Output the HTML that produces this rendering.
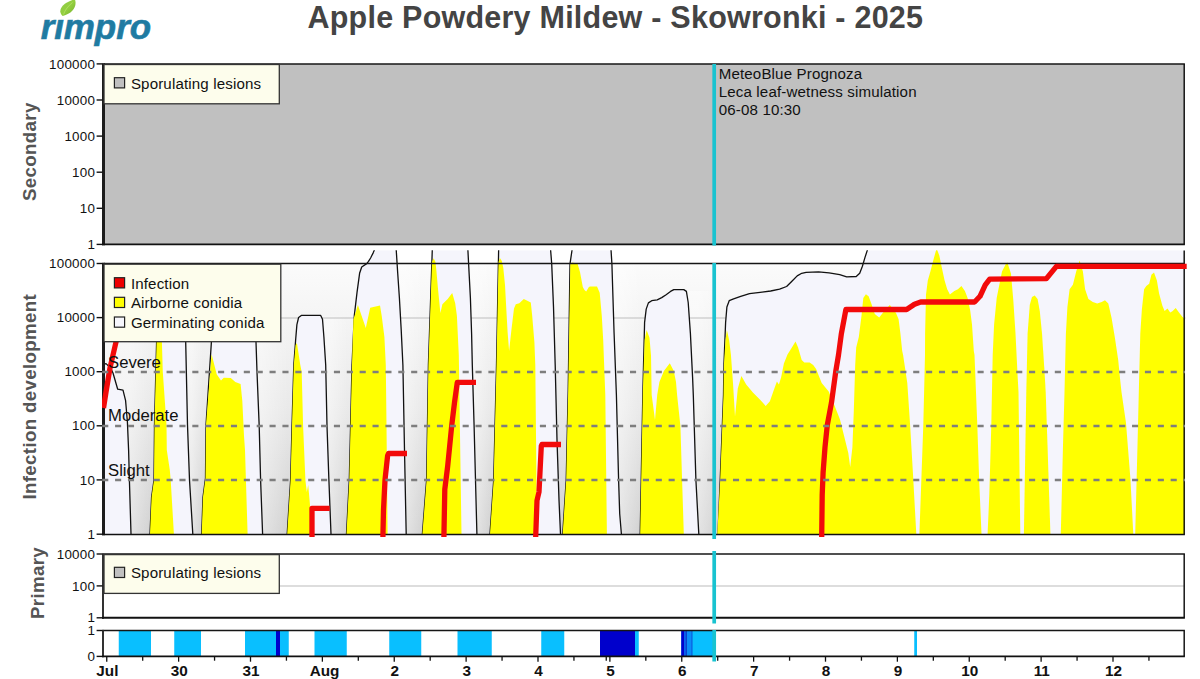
<!DOCTYPE html>
<html><head><meta charset="utf-8">
<style>
html,body{margin:0;padding:0;background:#fff;}
body{width:1200px;height:679px;overflow:hidden;font-family:"Liberation Sans",sans-serif;}
svg{display:block;position:absolute;left:0;top:0;}
text{font-family:"Liberation Sans",sans-serif;}
.tk{font-size:13.4px;letter-spacing:0.22px;fill:#111;text-anchor:end;}
.yl{font-size:18.7px;letter-spacing:0.35px;font-weight:bold;fill:#555;text-anchor:middle;}
.lg{font-size:15.1px;letter-spacing:0.15px;fill:#111;}
.xl{font-size:15.3px;font-weight:bold;fill:#111;text-anchor:middle;}
.lv{font-size:16.7px;fill:#111;}
</style></head><body>
<svg width="1200" height="679" viewBox="0 0 1200 679">
<defs>
<linearGradient id="bg" x1="0" y1="0" x2="0" y2="1">
<stop offset="0" stop-color="#fbfbfb"/><stop offset="0.55" stop-color="#e9e9e9"/><stop offset="1" stop-color="#d1d1d1"/>
</linearGradient>
<linearGradient id="leaf" x1="0" y1="0" x2="1" y2="1">
<stop offset="0" stop-color="#8ac848"/><stop offset="0.5" stop-color="#94cf3f"/><stop offset="1" stop-color="#74b030"/>
</linearGradient>
<clipPath id="cpI"><rect x="102" y="250.3" width="1083.5" height="283.7"/></clipPath>
<clipPath id="cpR"><rect x="102" y="250.3" width="1085" height="287"/></clipPath>
</defs>
<!-- LOGO -->
<g id="logo">
<text x="40.7" y="38.5" font-size="35" font-weight="bold" font-style="italic" fill="#1f7ba2" stroke="#1f7ba2" stroke-width="0.6" style="letter-spacing:-0.1px">rimpro</text>
<rect x="58" y="9" width="14" height="10.2" fill="#fff"/>
<path d="M62.7 15.9 C57.5 11.5 60.5 3.500 74.8 -0.8 C77.5 5.500 73 13.500 62.7 15.9 Z" fill="url(#leaf)"/>
<path d="M63.5 14.5 C65 10 68 6 72.500 2.500" stroke="#b6e36c" stroke-width="0.9" fill="none" opacity="0.8"/>
</g>
<!-- TITLE -->
<text x="307.5" y="28" font-size="30.5" font-weight="bold" fill="#444" style="letter-spacing:0.23px">Apple Powdery Mildew - Skowronki - 2025</text>

<!-- SECONDARY -->
<g id="sec">
<rect x="103" y="64" width="1082" height="180.5" fill="#c0c0c0"/>
<line x1="103.5" y1="63.9" x2="1184.9" y2="63.9" stroke="#161616" stroke-width="1.5"/>
<line x1="1184.2" y1="63.9" x2="1184.2" y2="244.4" stroke="#161616" stroke-width="1.5"/>
<line x1="103.5" y1="63.199999999999996" x2="103.5" y2="245.3" stroke="#1c1c1c" stroke-width="3"/>
<line x1="102.0" y1="244.4" x2="1184.9" y2="244.4" stroke="#111" stroke-width="1.9"/>
<g stroke="#111" stroke-width="1.4">
<line x1="96.6" y1="63.9" x2="102.5" y2="63.9"/>
<line x1="96.6" y1="100" x2="102.5" y2="100"/>
<line x1="96.6" y1="136.1" x2="102.5" y2="136.1"/>
<line x1="96.6" y1="172.2" x2="102.5" y2="172.2"/>
<line x1="96.6" y1="208.3" x2="102.5" y2="208.3"/>
<line x1="96.6" y1="244.4" x2="102.5" y2="244.4"/>
</g>
<text class="tk" x="95.1" y="68.5">100000</text>
<text class="tk" x="95.1" y="104.6">10000</text>
<text class="tk" x="95.1" y="140.7">1000</text>
<text class="tk" x="95.1" y="176.8">100</text>
<text class="tk" x="95.1" y="212.9">10</text>
<text class="tk" x="95.1" y="249.0">1</text>
<text class="yl" transform="translate(36.4,151.7) rotate(-90)">Secondary</text>
<rect x="104.0" y="64.5" width="175.29999999999998" height="39.3" fill="#fdfdec" stroke="#333" stroke-width="1.3"/>
<rect x="114.4" y="77.7" width="10.2" height="10.2" fill="#c0c0c0" stroke="#222" stroke-width="1.2"/>
<text class="lg" x="130.9" y="88.8">Sporulating lesions</text>
<text class="lg" x="718.7" y="79">MeteoBlue Prognoza</text>
<text class="lg" x="718.7" y="97">Leca leaf-wetness simulation</text>
<text class="lg" x="718.7" y="115">06-08 10:30</text>
</g>

<!-- INFECTION -->
<g id="inf">
<rect x="103" y="264" width="1082" height="270" fill="url(#bg)"/>
<g id="curves" clip-path="url(#cpI)">
<linearGradient id="gp0" gradientUnits="userSpaceOnUse" x1="130.0" y1="0" x2="151.0" y2="0"><stop offset="0" stop-color="#fff" stop-opacity="0.42"/><stop offset="1" stop-color="#fff" stop-opacity="0"/></linearGradient>
<rect x="103.0" y="264" width="48.0" height="270" fill="url(#gp0)"/>
<linearGradient id="gp1" gradientUnits="userSpaceOnUse" x1="191.8" y1="0" x2="202.7" y2="0"><stop offset="0" stop-color="#fff" stop-opacity="0.42"/><stop offset="1" stop-color="#fff" stop-opacity="0"/></linearGradient>
<rect x="178.8" y="264" width="23.9" height="270" fill="url(#gp1)"/>
<linearGradient id="gp2" gradientUnits="userSpaceOnUse" x1="261.6" y1="0" x2="288.2" y2="0"><stop offset="0" stop-color="#fff" stop-opacity="0.42"/><stop offset="1" stop-color="#fff" stop-opacity="0"/></linearGradient>
<rect x="248.6" y="264" width="39.6" height="270" fill="url(#gp2)"/>
<linearGradient id="gp3" gradientUnits="userSpaceOnUse" x1="330.0" y1="0" x2="347.5" y2="0"><stop offset="0" stop-color="#fff" stop-opacity="0.42"/><stop offset="1" stop-color="#fff" stop-opacity="0"/></linearGradient>
<rect x="317.0" y="316.5" width="30.5" height="217.5" fill="url(#gp3)"/>
<linearGradient id="gp4" gradientUnits="userSpaceOnUse" x1="405.2" y1="0" x2="423.4" y2="0"><stop offset="0" stop-color="#fff" stop-opacity="0.42"/><stop offset="1" stop-color="#fff" stop-opacity="0"/></linearGradient>
<rect x="392.2" y="264" width="31.2" height="270" fill="url(#gp4)"/>
<linearGradient id="gp5" gradientUnits="userSpaceOnUse" x1="475.9" y1="0" x2="491.0" y2="0"><stop offset="0" stop-color="#fff" stop-opacity="0.42"/><stop offset="1" stop-color="#fff" stop-opacity="0"/></linearGradient>
<rect x="462.9" y="264" width="28.1" height="270" fill="url(#gp5)"/>
<linearGradient id="gp6" gradientUnits="userSpaceOnUse" x1="620.4" y1="0" x2="641.2" y2="0"><stop offset="0" stop-color="#fff" stop-opacity="0.42"/><stop offset="1" stop-color="#fff" stop-opacity="0"/></linearGradient>
<rect x="607.4" y="264" width="33.8" height="270" fill="url(#gp6)"/>
<linearGradient id="gp7" gradientUnits="userSpaceOnUse" x1="697.8" y1="0" x2="719.0" y2="0"><stop offset="0" stop-color="#fff" stop-opacity="0.42"/><stop offset="1" stop-color="#fff" stop-opacity="0"/></linearGradient>
<rect x="684.8" y="291" width="34.2" height="243" fill="url(#gp7)"/>
<line x1="103" y1="318" x2="1186" y2="318" stroke="#bdbdbd" stroke-width="1.2"/>
<polygon points="103.0,364.5 106.0,363.6 110.6,368.0 113.0,373.0 117.7,389.2 123.0,390.1 125.6,400.7 127.4,422.0 128.6,450.0 129.4,480.0 131.0,534.0 102.0,534.0" fill="#f5f5fc"/>
<polygon points="150.0,534.0 151.6,497.0 154.0,480.0 154.5,425.0 156.6,342.0 158.0,275.0 160.0,270.0 182.0,270.0 184.5,275.0 185.7,342.0 187.5,425.0 189.5,480.0 192.8,534.0" fill="#f5f5fc"/>
<polygon points="201.7,534.0 203.0,497.0 205.5,478.0 206.0,425.0 211.4,342.0 213.0,275.0 215.0,270.0 252.0,270.0 254.5,275.0 256.0,342.0 257.0,372.0 259.2,426.0 260.6,480.0 262.6,534.0" fill="#f5f5fc"/>
<polygon points="287.2,534.0 290.6,480.0 292.0,426.0 293.8,365.0 295.6,340.5 296.9,324.6 298.6,317.5 301.3,315.4 320.7,315.4 322.5,319.3 323.9,337.0 325.7,365.0 327.0,426.0 328.9,480.0 331.0,534.0" fill="#f5f5fc"/>
<polygon points="346.5,534.0 349.3,480.0 352.0,365.0 354.3,315.7 357.0,292.7 359.6,273.3 361.7,267.0 366.7,263.6 368.5,261.3 370.6,258.0 373.3,252.6 375.9,250.3 396.0,250.3 397.6,271.5 399.4,298.0 401.2,329.9 402.9,365.0 404.5,450.0 406.2,534.0" fill="#f5f5fc"/>
<polygon points="422.4,534.0 426.6,480.0 428.4,365.0 432.4,250.3 467.7,250.3 468.6,263.6 470.4,298.0 471.6,333.4 472.3,365.0 474.1,426.0 476.9,534.0" fill="#f5f5fc"/>
<polygon points="490.0,534.0 493.7,480.0 496.5,365.0 498.7,250.3 550.3,250.3 551.7,263.6 553.5,306.9 555.2,365.0 557.0,440.0 559.0,500.0 560.5,534.0" fill="#f5f5fc"/>
<polygon points="562.7,534.0 566.2,480.0 568.2,390.0 570.0,263.8 572.6,250.3 610.8,250.3 611.9,263.8 614.1,333.4 616.4,395.0 618.6,480.0 619.7,513.8 621.4,534.0" fill="#f5f5fc"/>
<polygon points="640.2,534.0 642.9,390.0 644.6,322.3 646.2,309.1 648.4,302.9 651.7,300.7 657.2,299.8 661.7,297.6 666.1,294.7 670.5,291.4 673.8,289.6 683.8,289.6 686.4,291.4 688.2,302.5 690.4,333.4 692.6,377.6 693.3,395.0 695.9,480.0 698.8,534.0" fill="#f5f5fc"/>
<polygon points="718.0,534.0 720.2,480.0 723.5,395.0 723.9,365.0 725.6,322.8 726.9,306.9 729.2,300.7 733.6,298.9 740.7,296.3 749.5,293.6 760.1,292.4 770.7,291.0 779.6,289.2 786.6,286.5 791.9,281.2 797.2,275.9 801.7,273.3 806.1,272.4 818.5,271.9 829.1,272.9 839.7,274.7 846.7,276.8 856.2,276.5 859.7,273.3 862.4,266.2 865.0,257.4 868.6,250.3 1185.5,250.3 1185.5,534.0" fill="#f5f5fc"/>
<polyline points="103.0,364.5 106.0,363.6 110.6,368.0 113.0,373.0 117.7,389.2 123.0,390.1 125.6,400.7 127.4,422.0 128.6,450.0 129.4,480.0 131.0,534.0" fill="none" stroke="#111" stroke-width="1.3" stroke-linejoin="round"/>
<polyline points="150.0,534.0 151.6,497.0 154.0,480.0 154.5,425.0 156.6,342.0 158.0,275.0 160.0,270.0 182.0,270.0 184.5,275.0 185.7,342.0 187.5,425.0 189.5,480.0 192.8,534.0" fill="none" stroke="#111" stroke-width="1.3" stroke-linejoin="round"/>
<polyline points="201.7,534.0 203.0,497.0 205.5,478.0 206.0,425.0 211.4,342.0 213.0,275.0 215.0,270.0 252.0,270.0 254.5,275.0 256.0,342.0 257.0,372.0 259.2,426.0 260.6,480.0 262.6,534.0" fill="none" stroke="#111" stroke-width="1.3" stroke-linejoin="round"/>
<polyline points="287.2,534.0 290.6,480.0 292.0,426.0 293.8,365.0 295.6,340.5 296.9,324.6 298.6,317.5 301.3,315.4 320.7,315.4 322.5,319.3 323.9,337.0 325.7,365.0 327.0,426.0 328.9,480.0 331.0,534.0" fill="none" stroke="#111" stroke-width="1.3" stroke-linejoin="round"/>
<polyline points="346.5,534.0 349.3,480.0 352.0,365.0 354.3,315.7 357.0,292.7 359.6,273.3 361.7,267.0 366.7,263.6 368.5,261.3 370.6,258.0 373.3,252.6 375.9,246.3 396.0,246.3 397.6,271.5 399.4,298.0 401.2,329.9 402.9,365.0 404.5,450.0 406.2,534.0" fill="none" stroke="#111" stroke-width="1.3" stroke-linejoin="round"/>
<polyline points="422.4,534.0 426.6,480.0 428.4,365.0 432.4,246.3 467.7,246.3 468.6,263.6 470.4,298.0 471.6,333.4 472.3,365.0 474.1,426.0 476.9,534.0" fill="none" stroke="#111" stroke-width="1.3" stroke-linejoin="round"/>
<polyline points="490.0,534.0 493.7,480.0 496.5,365.0 498.7,246.3 550.3,246.3 551.7,263.6 553.5,306.9 555.2,365.0 557.0,440.0 559.0,500.0 560.5,534.0" fill="none" stroke="#111" stroke-width="1.3" stroke-linejoin="round"/>
<polyline points="562.7,534.0 566.2,480.0 568.2,390.0 570.0,263.8 572.6,246.3 610.8,246.3 611.9,263.8 614.1,333.4 616.4,395.0 618.6,480.0 619.7,513.8 621.4,534.0" fill="none" stroke="#111" stroke-width="1.3" stroke-linejoin="round"/>
<polyline points="640.2,534.0 642.9,390.0 644.6,322.3 646.2,309.1 648.4,302.9 651.7,300.7 657.2,299.8 661.7,297.6 666.1,294.7 670.5,291.4 673.8,289.6 683.8,289.6 686.4,291.4 688.2,302.5 690.4,333.4 692.6,377.6 693.3,395.0 695.9,480.0 698.8,534.0" fill="none" stroke="#111" stroke-width="1.3" stroke-linejoin="round"/>
<polyline points="718.0,534.0 720.2,480.0 723.5,395.0 723.9,365.0 725.6,322.8 726.9,306.9 729.2,300.7 733.6,298.9 740.7,296.3 749.5,293.6 760.1,292.4 770.7,291.0 779.6,289.2 786.6,286.5 791.9,281.2 797.2,275.9 801.7,273.3 806.1,272.4 818.5,271.9 829.1,272.9 839.7,274.7 846.7,276.8 856.2,276.5 859.7,273.3 862.4,266.2 865.0,257.4 868.6,246.3" fill="none" stroke="#111" stroke-width="1.3" stroke-linejoin="round"/>
<polygon points="150.0,534.0 151.6,497.0 154.0,480.0 154.5,425.0 156.6,342.0 158.0,300.0 160.0,300.0 161.9,342.0 162.8,372.0 166.5,425.0 166.8,450.0 169.8,470.0 170.7,480.0 173.9,534.0" fill="#ffff00"/>
<polygon points="201.7,534.0 203.0,497.0 205.5,478.0 206.0,425.0 211.4,356.0 211.7,354.7 216.7,374.2 221.0,380.4 223.8,377.7 230.8,378.0 235.3,382.0 240.6,384.0 242.3,400.7 244.0,436.0 245.0,450.0 247.6,534.0" fill="#ffff00"/>
<polygon points="287.2,534.0 290.6,480.0 292.0,426.0 293.8,365.0 295.6,345.0 296.9,343.0 300.3,365.0 301.7,372.0 303.1,426.0 305.4,480.0 306.8,492.0 308.2,485.0 310.1,506.0 312.0,534.0" fill="#ffff00"/>
<polygon points="346.5,534.0 349.3,480.0 352.0,365.0 353.4,319.3 357.9,305.1 365.8,328.1 370.2,307.8 380.0,305.6 381.7,315.7 384.4,337.0 385.8,365.0 386.5,426.0 387.6,534.0" fill="#ffff00"/>
<polygon points="422.4,534.0 426.6,480.0 428.4,365.0 432.0,262.0 433.6,258.3 435.5,262.0 436.5,272.0 438.1,290.0 440.4,313.0 442.4,304.2 447.7,299.0 452.2,293.0 455.2,303.3 456.9,315.7 458.8,355.0 461.5,534.0" fill="#ffff00"/>
<polygon points="490.0,534.0 493.7,480.0 496.5,365.0 498.5,262.0 499.9,258.0 501.8,261.0 503.3,268.0 505.0,285.0 506.3,309.0 507.6,332.0 509.1,351.0 511.4,329.9 514.0,308.6 515.8,304.2 519.3,303.3 523.8,299.0 527.3,300.7 530.8,302.5 532.2,315.7 534.4,342.2 535.3,365.0 537.0,534.0" fill="#ffff00"/>
<polygon points="562.7,534.0 566.2,480.0 568.2,390.0 570.3,264.0 572.0,262.5 577.5,263.5 580.0,272.0 582.8,287.0 584.5,290.0 586.2,291.5 588.9,287.0 590.0,286.6 597.0,286.6 599.7,292.7 601.8,316.0 603.2,340.0 604.2,366.5 605.3,395.0 606.9,534.0" fill="#ffff00"/>
<polygon points="640.2,534.0 642.9,390.0 644.6,340.0 646.6,330.1 649.5,337.8 651.0,355.5 651.7,395.0 655.0,420.0 657.2,395.0 659.4,382.0 663.9,371.0 669.8,363.2 673.8,371.0 676.0,382.0 677.1,395.0 680.4,426.0 683.8,534.0" fill="#ffff00"/>
<polygon points="717.3,534.0 720.2,480.0 723.5,395.0 723.9,365.0 725.5,340.0 726.9,329.9 729.2,340.5 730.9,354.6 733.0,383.0 735.0,416.5 737.8,388.6 741.4,376.0 746.2,384.4 753.1,392.8 760.1,399.8 765.7,405.9 769.9,401.2 773.3,391.4 776.9,381.6 778.9,384.4 781.1,377.4 783.9,363.4 787.5,354.6 791.9,347.5 795.5,341.4 798.1,347.5 801.7,360.0 804.3,362.6 809.6,362.6 813.2,365.0 816.1,369.0 821.7,383.0 828.7,391.4 834.3,405.0 839.9,419.3 844.1,436.1 848.3,452.9 850.2,466.9 852.4,447.3 853.8,410.9 855.2,365.0 856.2,347.5 858.8,337.0 861.5,315.7 863.3,298.0 865.9,294.2 868.6,296.3 871.2,303.3 874.8,314.0 879.2,317.5 882.7,313.0 889.8,305.1 896.0,313.0 898.6,319.3 900.4,333.4 902.2,351.0 903.1,355.0 907.3,383.0 910.1,425.0 912.9,472.5 916.3,534.0" fill="#ffff00"/>
<polygon points="919.4,534.0 921.3,480.9 923.3,425.0 925.0,355.0 925.1,333.4 926.0,294.5 927.8,280.4 930.4,271.5 933.1,261.0 936.6,248.3 939.3,255.6 941.9,268.0 944.6,280.4 947.2,289.2 949.9,294.5 954.3,291.0 957.9,289.2 961.4,286.0 964.9,291.0 967.6,298.0 970.2,310.4 972.0,324.6 973.8,351.0 974.5,355.0 977.3,425.0 979.2,480.9 981.5,534.0" fill="#ffff00"/>
<polygon points="987.6,534.0 989.3,494.9 991.3,425.0 992.7,355.0 994.1,324.6 996.7,298.0 1002.0,271.5 1005.6,264.4 1007.3,262.2 1011.0,273.7 1013.3,300.2 1015.5,333.4 1017.7,377.6 1018.5,392.0 1020.3,534.0" fill="#ffff00"/>
<polygon points="1023.9,534.0 1026.3,392.0 1027.6,333.4 1029.8,304.7 1032.0,296.9 1034.7,295.4 1037.6,299.1 1039.8,311.3 1042.0,333.4 1044.2,366.5 1045.7,392.0 1047.5,445.0 1050.4,534.0" fill="#ffff00"/>
<polygon points="1060.8,534.0 1063.0,445.0 1064.5,392.0 1065.9,333.4 1067.4,306.9 1069.6,289.2 1072.9,284.8 1076.2,271.5 1079.6,260.5 1082.9,271.5 1085.1,289.2 1088.4,299.1 1092.8,302.0 1097.2,303.6 1101.7,302.0 1105.0,300.2 1108.3,303.6 1111.6,317.9 1114.9,337.8 1118.2,359.9 1120.4,382.0 1121.5,392.0 1126.0,423.0 1130.4,478.4 1133.3,534.0" fill="#ffff00"/>
<polygon points="1135.2,534.0 1137.5,445.0 1138.8,392.0 1140.3,333.4 1141.9,309.1 1144.1,289.2 1146.3,285.9 1149.2,283.7 1151.4,274.8 1154.0,272.6 1156.9,280.4 1159.1,293.6 1162.4,305.8 1164.6,310.9 1167.5,308.6 1170.2,312.4 1172.4,311.3 1175.7,308.0 1179.0,312.4 1182.3,316.8 1185.0,319.0 1185.0,534.0" fill="#ffff00"/>
</g>
<line x1="103.5" y1="263.5" x2="1184.9" y2="263.5" stroke="#161616" stroke-width="1.5"/>
<line x1="1184.2" y1="250.5" x2="1184.2" y2="534.4" stroke="#161616" stroke-width="1.5"/>
<line x1="103.5" y1="262.8" x2="103.5" y2="535.3" stroke="#1c1c1c" stroke-width="3"/>
<line x1="102.0" y1="534.4" x2="1184.9" y2="534.4" stroke="#111" stroke-width="1.5"/>
<g stroke="#111" stroke-width="1.4">
<line x1="96.6" y1="263.5" x2="102.5" y2="263.5"/>
<line x1="96.6" y1="317.6" x2="102.5" y2="317.6"/>
<line x1="96.6" y1="371.7" x2="102.5" y2="371.7"/>
<line x1="96.6" y1="425.8" x2="102.5" y2="425.8"/>
<line x1="96.6" y1="479.9" x2="102.5" y2="479.9"/>
<line x1="96.6" y1="534.2" x2="102.5" y2="534.2"/>
</g>
<text class="tk" x="95.1" y="268.1">100000</text>
<text class="tk" x="95.1" y="322.2">10000</text>
<text class="tk" x="95.1" y="376.3">1000</text>
<text class="tk" x="95.1" y="430.4">100</text>
<text class="tk" x="95.1" y="484.5">10</text>
<text class="tk" x="95.1" y="538.8">1</text>
<g clip-path="url(#cpR)">
<polyline points="103.5,408.0 106.0,392.0 110.0,368.0 113.0,355.0 116.0,342.0 118.0,335.0" fill="none" stroke="#f20a0a" stroke-width="5.3" stroke-linejoin="round"/>
<polyline points="312.0,537.0 312.0,508.3 329.7,508.3" fill="none" stroke="#f20a0a" stroke-width="5.3" stroke-linejoin="round"/>
<polyline points="382.9,537.0 383.5,510.0 385.0,480.0 387.6,455.7 388.5,453.5 407.0,453.5" fill="none" stroke="#f20a0a" stroke-width="5.3" stroke-linejoin="round"/>
<polyline points="443.9,537.0 444.8,489.3 447.6,466.9 451.7,425.8 454.5,402.6 457.3,382.4 476.0,382.4" fill="none" stroke="#f20a0a" stroke-width="5.3" stroke-linejoin="round"/>
<polyline points="535.7,537.0 537.0,500.5 539.0,492.0 541.3,445.9 542.0,444.5 561.0,444.5" fill="none" stroke="#f20a0a" stroke-width="5.3" stroke-linejoin="round"/>
<polyline points="821.7,537.0 822.2,494.9 823.1,472.5 825.0,447.3 827.3,424.9 831.5,402.6 835.7,371.8 838.5,355.0 841.4,333.4 845.9,309.5 906.6,309.5 911.9,306.0 914.5,304.2 920.7,301.9 974.6,302.0 980.0,296.3 985.3,284.8 989.7,279.1 1046.4,278.6 1056.4,266.4 1186.7,266.4" fill="none" stroke="#f20a0a" stroke-width="5.3" stroke-linejoin="round"/>
</g>
<g stroke="#7e7e7e" stroke-width="2.5" stroke-dasharray="6.1 6.773">
<line x1="102.2" y1="371.9" x2="1185" y2="371.9"/><line x1="102.2" y1="425.9" x2="1185" y2="425.9"/><line x1="102.2" y1="480" x2="1185" y2="480"/>
</g>
<text class="yl" transform="translate(36.4,396.7) rotate(-90)">Infection development</text>
<text class="lv" x="108" y="367.5">Severe</text><text class="lv" x="108" y="421.2">Moderate</text><text class="lv" x="108" y="475.5">Slight</text>
<rect x="104.0" y="264.2" width="176.79999999999998" height="77.5" fill="#fdfdec" stroke="#333" stroke-width="1.3"/>
<rect x="114.4" y="277.7" width="10.2" height="10.2" fill="#ee0000" stroke="#222" stroke-width="1.2"/>
<text class="lg" x="130.9" y="288.8">Infection</text>
<rect x="114.4" y="297.3" width="10.2" height="10.2" fill="#ffff00" stroke="#222" stroke-width="1.2"/>
<text class="lg" x="130.9" y="308.4">Airborne conidia</text>
<rect x="114.4" y="317" width="10.2" height="10.2" fill="#f6f6fc" stroke="#222" stroke-width="1.2"/>
<text class="lg" x="130.9" y="328.1">Germinating conida</text>
</g>

<!-- PRIMARY -->
<g id="pri">
<rect x="103" y="554" width="1082" height="64" fill="#fff"/>
<line x1="103" y1="586" x2="1185" y2="586" stroke="#bbb" stroke-width="1"/>
<line x1="103.5" y1="554" x2="1184.9" y2="554" stroke="#161616" stroke-width="1.5"/>
<line x1="1184.2" y1="554" x2="1184.2" y2="617.8" stroke="#161616" stroke-width="1.5"/>
<line x1="103" y1="553.3" x2="103" y2="618.6999999999999" stroke="#1c1c1c" stroke-width="1.8"/>
<line x1="102.0" y1="617.8" x2="1184.9" y2="617.8" stroke="#111" stroke-width="1.9"/>
<g stroke="#111" stroke-width="1.4">
<line x1="96.6" y1="554" x2="102.5" y2="554"/>
<line x1="96.6" y1="585.9" x2="102.5" y2="585.9"/>
<line x1="96.6" y1="617.8" x2="102.5" y2="617.8"/>
</g>
<text class="tk" x="95.1" y="558.6">10000</text>
<text class="tk" x="95.1" y="590.5">100</text>
<text class="tk" x="95.1" y="622.4">1</text>
<text class="yl" transform="translate(44.3,583) rotate(-90)">Primary</text>
<rect x="104.0" y="554.6" width="175.29999999999998" height="38.8" fill="#fdfdec" stroke="#333" stroke-width="1.3"/>
<rect x="114.4" y="567.3" width="10.2" height="10.2" fill="#c0c0c0" stroke="#222" stroke-width="1.2"/>
<text class="lg" x="130.9" y="578.4">Sporulating lesions</text>
</g>

<!-- WETNESS -->
<g id="wet">
<rect x="103" y="630" width="1082" height="26" fill="#fff"/>
<rect x="118.75" y="630.5" width="32.25" height="25.5" fill="#09bfff"/>
<rect x="174.25" y="630.5" width="26.75" height="25.5" fill="#09bfff"/>
<rect x="245.00" y="630.5" width="43.75" height="25.5" fill="#09bfff"/>
<rect x="276.00" y="630.5" width="4.00" height="25.5" fill="#0000cc"/>
<rect x="314.50" y="630.5" width="32.25" height="25.5" fill="#09bfff"/>
<rect x="389.25" y="630.5" width="32.00" height="25.5" fill="#09bfff"/>
<rect x="457.50" y="630.5" width="34.25" height="25.5" fill="#09bfff"/>
<rect x="541.25" y="630.5" width="23.00" height="25.5" fill="#09bfff"/>
<rect x="600.00" y="630.5" width="35.00" height="25.5" fill="#0000cc"/>
<rect x="635.00" y="630.5" width="3.75" height="25.5" fill="#09bfff"/>
<rect x="681.25" y="630.5" width="32.75" height="25.5" fill="#09bfff"/>
<rect x="681.25" y="630.5" width="3.00" height="25.5" fill="#0000cc"/>
<rect x="684.25" y="630.5" width="2.25" height="25.5" fill="#0a55e8"/>
<rect x="686.50" y="630.5" width="5.50" height="25.5" fill="#0a8cf8"/>
<rect x="686.00" y="630.5" width="0.80" height="25.5" fill="#0a30c0"/>
<rect x="691.60" y="630.5" width="0.80" height="25.5" fill="#0a40d0"/>
<rect x="914.25" y="630.5" width="2.75" height="25.5" fill="#09bfff"/>
<line x1="103.5" y1="630.5" x2="1184.9" y2="630.5" stroke="#161616" stroke-width="1.5"/>
<line x1="1184.2" y1="630.5" x2="1184.2" y2="656.4" stroke="#161616" stroke-width="1.5"/>
<line x1="103" y1="629.8" x2="103" y2="657.3" stroke="#1c1c1c" stroke-width="1.8"/>
<line x1="102.0" y1="656.4" x2="1184.9" y2="656.4" stroke="#111" stroke-width="1.9"/>
<g stroke="#111" stroke-width="1.4">
<line x1="96.6" y1="630.5" x2="102.5" y2="630.5"/>
<line x1="96.6" y1="656.4" x2="102.5" y2="656.4"/>
</g>
<text class="tk" x="95.1" y="635.1">1</text>
<text class="tk" x="95.1" y="661.0">0</text>
<g stroke="#111" stroke-width="1.3">
<line x1="106.75" y1="656.5" x2="106.75" y2="661.7"/>
<line x1="142.69" y1="656.5" x2="142.69" y2="660.7"/>
<line x1="178.62" y1="656.5" x2="178.62" y2="661.7"/>
<line x1="214.56" y1="656.5" x2="214.56" y2="660.7"/>
<line x1="250.50" y1="656.5" x2="250.50" y2="661.7"/>
<line x1="286.44" y1="656.5" x2="286.44" y2="660.7"/>
<line x1="322.38" y1="656.5" x2="322.38" y2="661.7"/>
<line x1="358.31" y1="656.5" x2="358.31" y2="660.7"/>
<line x1="394.25" y1="656.5" x2="394.25" y2="661.7"/>
<line x1="430.19" y1="656.5" x2="430.19" y2="660.7"/>
<line x1="466.12" y1="656.5" x2="466.12" y2="661.7"/>
<line x1="502.06" y1="656.5" x2="502.06" y2="660.7"/>
<line x1="538.00" y1="656.5" x2="538.00" y2="661.7"/>
<line x1="573.94" y1="656.5" x2="573.94" y2="660.7"/>
<line x1="609.88" y1="656.5" x2="609.88" y2="661.7"/>
<line x1="645.82" y1="656.5" x2="645.82" y2="660.7"/>
<line x1="681.75" y1="656.5" x2="681.75" y2="661.7"/>
<line x1="717.69" y1="656.5" x2="717.69" y2="660.7"/>
<line x1="753.62" y1="656.5" x2="753.62" y2="661.7"/>
<line x1="789.57" y1="656.5" x2="789.57" y2="660.7"/>
<line x1="825.50" y1="656.5" x2="825.50" y2="661.7"/>
<line x1="861.44" y1="656.5" x2="861.44" y2="660.7"/>
<line x1="897.38" y1="656.5" x2="897.38" y2="661.7"/>
<line x1="933.32" y1="656.5" x2="933.32" y2="660.7"/>
<line x1="969.25" y1="656.5" x2="969.25" y2="661.7"/>
<line x1="1005.19" y1="656.5" x2="1005.19" y2="660.7"/>
<line x1="1041.12" y1="656.5" x2="1041.12" y2="661.7"/>
<line x1="1077.07" y1="656.5" x2="1077.07" y2="660.7"/>
<line x1="1113.00" y1="656.5" x2="1113.00" y2="661.7"/>
<line x1="1148.94" y1="656.5" x2="1148.94" y2="660.7"/>
<line x1="606.25" y1="656.5" x2="606.25" y2="660.7"/>
</g>
<text class="xl" x="107.35" y="675.7">Jul</text>
<text class="xl" x="179.22" y="675.7">30</text>
<text class="xl" x="251.10" y="675.7">31</text>
<text class="xl" x="324.58" y="675.7">Aug</text>
<text class="xl" x="394.85" y="675.7">2</text>
<text class="xl" x="466.73" y="675.7">3</text>
<text class="xl" x="538.60" y="675.7">4</text>
<text class="xl" x="610.48" y="675.7">5</text>
<text class="xl" x="682.35" y="675.7">6</text>
<text class="xl" x="754.23" y="675.7">7</text>
<text class="xl" x="826.10" y="675.7">8</text>
<text class="xl" x="897.98" y="675.7">9</text>
<text class="xl" x="969.85" y="675.7">10</text>
<text class="xl" x="1041.72" y="675.7">11</text>
<text class="xl" x="1113.60" y="675.7">12</text>
</g>

<!-- CYAN LINE -->
<g stroke="#19c3d0" stroke-width="3.7">
<line x1="714.2" y1="64" x2="714.2" y2="245.5"/>
<line x1="714.2" y1="263" x2="714.2" y2="539"/>
<line x1="714.2" y1="551" x2="714.2" y2="623.5"/>
<line x1="714.2" y1="630" x2="714.2" y2="661.5"/>
</g>
</svg>
</body></html>
